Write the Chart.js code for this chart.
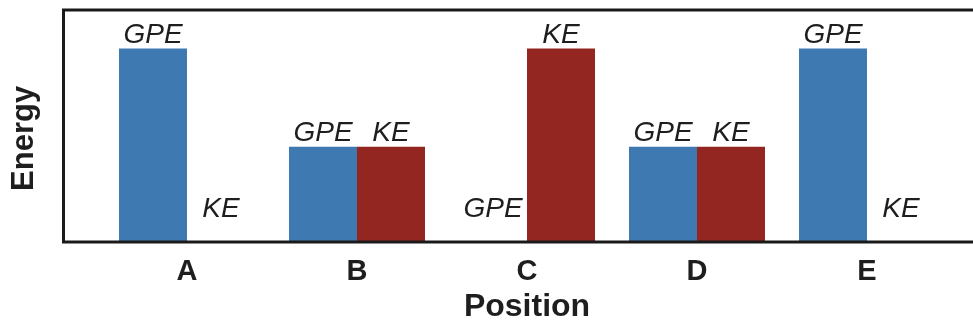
<!DOCTYPE html>
<html>
<head>
<meta charset="utf-8">
<script src="https://cdn.jsdelivr.net/npm/chart.js@4"></script>
<style>
  html, body { margin: 0; padding: 0; background: #fff; }
  #wrap { width: 973px; height: 328px; }
</style>
</head>
<body>
<div id="wrap"><canvas id="energy-chart"></canvas></div>
<script>
// Energy at each position
const positions = ['A', 'B', 'C', 'D', 'E'];
const gpeValues = [100, 49, 0, 49, 100];
const keValues = [0, 49, 100, 49, 0];
const seriesNames = ['GPE', 'KE'];

const blue = 'rgb(62, 122, 177)';
const red = 'rgb(148, 38, 33)';

// Draws the GPE / KE tag above each bar
const barTags = {
    id: 'barTags',
    afterDatasetsDraw(chart) {
        const ctx = chart.ctx;
        ctx.save();
        ctx.font = 'italic 28px "Liberation Sans", Arial, sans-serif';
        ctx.fillStyle = '#1e1e1e';
        ctx.textAlign = 'center';
        ctx.textBaseline = 'alphabetic';
        chart.data.datasets.forEach((ds, i) => {
            chart.getDatasetMeta(i).data.forEach((bar, j) => {
                const gap = ds.data[j] === 0 ? 24 : 6;
                ctx.fillText(seriesNames[i], bar.x, bar.y - gap);
            });
        });
        ctx.restore();
    }
};

// Frame round the plot (open on the right, as in the picture)
const frame = {
    id: 'frame',
    afterDraw(chart) {
        const ctx = chart.ctx;
        const {top, bottom} = chart.chartArea;
        ctx.save();
        ctx.strokeStyle = '#1a1a1a';
        ctx.lineWidth = 3;
        ctx.beginPath();
        ctx.moveTo(973, top);
        ctx.lineTo(63.5, top);
        ctx.lineTo(63.5, bottom + 1);
        ctx.lineTo(973, bottom + 1);
        ctx.stroke();
        ctx.restore();
    }
};

function initChart() {
    const ctx = document.getElementById('energy-chart').getContext('2d');
    new Chart(ctx, {
        type: 'bar',
        data: {
            labels: positions,
            datasets: [{
                label: seriesNames[0],
                data: gpeValues,
                backgroundColor: blue
            }, {
                label: seriesNames[1],
                data: keValues,
                backgroundColor: red
            }]
        },
        options: {
            responsive: true,
            maintainAspectRatio: false,
            animation: false,
            layout: { padding: { top: 10, right: 21, left: 0, bottom: 0 } },
            categoryPercentage: 0.8,
            barPercentage: 1.0,
            plugins: {
                legend: { display: false },
                tooltip: { enabled: false }
            },
            scales: {
                x: {
                    grid: { display: false, drawTicks: false },
                    border: { display: false },
                    ticks: {
                        color: '#1e1e1e',
                        padding: 14,
                        font: { family: '"Liberation Sans", Arial, sans-serif', size: 29, weight: 'bold' }
                    },
                    title: {
                        display: true,
                        text: 'Position',
                        color: '#1e1e1e',
                        padding: { top: 2, bottom: 2 },
                        font: { family: '"Liberation Sans", Arial, sans-serif', size: 32, weight: 'bold' }
                    },
                    afterFit(scale) { scale.height = 87; }
                },
                y: {
                    min: 0,
                    max: 120,
                    grid: { display: false, drawTicks: false },
                    border: { display: false },
                    ticks: { display: false },
                    title: {
                        display: true,
                        // trailing spaces push the word a little lower, as in the picture
                        text: 'Energy   ',
                        color: '#1e1e1e',
                        padding: { top: 6, bottom: 6 },
                        font: { family: '"Liberation Sans", Arial, sans-serif', size: 31, weight: 'bold' }
                    },
                    afterFit(scale) { scale.width = 102; }
                }
            }
        },
        plugins: [barTags, frame]
    });
}

document.addEventListener('DOMContentLoaded', initChart);
</script>
</body>
</html>
